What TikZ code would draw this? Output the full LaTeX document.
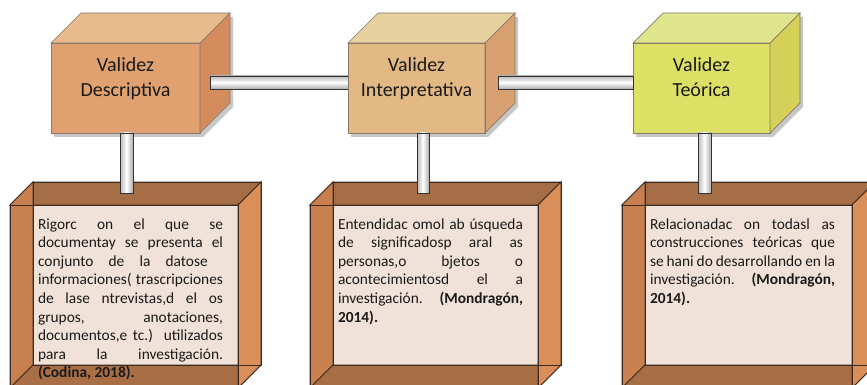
\documentclass[tikz,border=0pt]{standalone}
\usepackage{fontspec}
\setmainfont{Carlito}
\usetikzlibrary{calc}
\definecolor{vdfront}{HTML}{E0A070}
\definecolor{vdtop}{HTML}{E8BA8C}
\definecolor{vdside}{HTML}{D48C5F}
\definecolor{vifront}{HTML}{E2B884}
\definecolor{vitop}{HTML}{E6D0A0}
\definecolor{viside}{HTML}{D6A070}
\definecolor{vtfront}{HTML}{DCE064}
\definecolor{vttop}{HTML}{DEE68C}
\definecolor{vtside}{HTML}{D4D058}
\definecolor{edgec}{HTML}{8A7868}
\definecolor{btop}{HTML}{A66E46}
\definecolor{bleft}{HTML}{C88050}
\definecolor{bright}{HTML}{DA8E58}
\definecolor{bbottom}{HTML}{A86E46}
\definecolor{panel}{HTML}{F0E2D8}
\definecolor{bline}{HTML}{3C2A20}
\definecolor{txt}{HTML}{1A1A1A}
\tikzset{
  edge/.style={draw=edgec, line width=0.7pt},
  bedge/.style={draw=bline, line width=1pt},
  hbar/.style={draw=black!80, line width=0.9pt, top color=gray!55, bottom color=gray!65, middle color=white},
  vbar/.style={draw=black!80, line width=0.9pt, left color=gray!55, right color=gray!65, middle color=white},
  body/.style={inner sep=0pt, outer sep=0pt, anchor=base west, font=\fontsize{15.4pt}{18.6pt}\selectfont, text=txt},
  lbl/.style={inner sep=0pt, anchor=base, font=\fontsize{20pt}{25pt}\selectfont, text=txt},
  frontbox/.style={rectangle, inner sep=0pt, outer sep=0pt, minimum height=90pt},
  backbox/.style={rectangle, inner sep=0pt, outer sep=0pt, minimum height=183pt},
}
% #1 name, #2 center, #3 width, #4 colour prefix, #5 line 1, #6 line 2
\newcommand\mytopbox[6]{%
  \path node[frontbox, minimum width=#3] (#1) at (#2) {};
  \fill[black, opacity=.22] ($(#1.south west)+(3,4)$) -- ($(#1.north west)+(3,4)$)
     -- ($(#1.north west)+(33,-26)$) -- ($(#1.north east)+(33,-26)$)
     -- ($(#1.south east)+(33,-26)$) -- ($(#1.south east)+(3,4)$) -- cycle;
  \filldraw[edge, fill=#4front] (#1.north west) rectangle (#1.south east);
  \filldraw[edge, fill=#4top] (#1.north west) -- ++(30,-30) -- ($(#1.north east)+(30,-30)$) -- (#1.north east) -- cycle;
  \filldraw[edge, fill=#4side] (#1.north east) -- ++(30,-30) -- ($(#1.south east)+(30,-30)$) -- (#1.south east) -- cycle;
  \node[lbl] (#1a) at ($(#1.north)+(0,29)$) {#5};
  \node[lbl] (#1b) at ($(#1.north)+(0,54)$) {#6};
}
% #1 name, #2 center, #3 width
\newcommand\mybottombox[3]{%
  \path node[backbox, minimum width=#3] (#1) at (#2) {};
  \fill[panel] ($(#1.north west)+(23,0)$) rectangle ($(#1.south east)+(0,-23)$);
  \filldraw[bedge, fill=btop] (#1.north west) -- ++(23,-23) -- ($(#1.north east)+(23,-23)$) -- (#1.north east) -- cycle;
  \filldraw[bedge, fill=bleft] (#1.north west) -- ++(23,-23) -- ($(#1.south west)+(23,-23)$) -- (#1.south west) -- cycle;
  \filldraw[bedge, fill=bbottom] (#1.south west) -- ++(23,-23) -- ($(#1.south east)+(23,-23)$) -- (#1.south east) -- cycle;
  \filldraw[bedge, fill=bright] (#1.north east) -- ++(23,-23) -- ($(#1.south east)+(23,-23)$) -- (#1.south east) -- cycle;
  \draw[bedge] ($(#1.north west)+(23,-23)$) rectangle ($(#1.south east)+(23,-23)$);
  \draw[bedge] (#1.north west) rectangle (#1.south east);
}
\begin{document}
\begin{tikzpicture}[x=1pt, y=-1pt]
\useasboundingbox (0,0) rectangle (867,385);
\clip (0,0) rectangle (867,385);
\fill[white] (0,0) rectangle (867,385);

% bottom boxes
\mybottombox{pd}{124,296.5}{228pt}
\mybottombox{pi}{424,296.5}{228pt}
\mybottombox{pt}{737,296.5}{230pt}

% texts of bottom boxes
\node[body] (pd1) at ($(pd.north west)+(28,24)$)    {\makebox[185pt][s]{Rigorc on el que se}};
\node[body] (pd2) at ($(pd.north west)+(28,42.6)$)  {\makebox[185pt][s]{documentay se presenta el}};
\node[body] (pd3) at ($(pd.north west)+(28,61.2)$)  {\makebox[185pt][s]{conjunto de la datose }};
\node[body] (pd4) at ($(pd.north west)+(28,79.8)$)  {\makebox[185pt][s]{informaciones( trascripciones}};
\node[body] (pd5) at ($(pd.north west)+(28,98.4)$)  {\makebox[185pt][s]{de lase ntrevistas,d el os}};
\node[body] (pd6) at ($(pd.north west)+(28,117)$)   {\makebox[185pt][s]{grupos, anotaciones,}};
\node[body] (pd7) at ($(pd.north west)+(28,135.6)$) {\makebox[185pt][s]{documentos,e tc.) utilizados}};
\node[body] (pd8) at ($(pd.north west)+(28,154.2)$) {\makebox[185pt][s]{para la investigación.}};
\node[body] (pd9) at ($(pd.north west)+(28,172.8)$) {\textbf{(Codina, 2018).}};

\node[body] (pi1) at ($(pi.north west)+(28,24)$)    {\makebox[185pt][s]{Entendidac omol ab úsqueda}};
\node[body] (pi2) at ($(pi.north west)+(28,42.6)$)  {\makebox[185pt][s]{de significadosp aral as}};
\node[body] (pi3) at ($(pi.north west)+(28,61.2)$)  {\makebox[185pt][s]{personas,o bjetos o}};
\node[body] (pi4) at ($(pi.north west)+(28,79.8)$)  {\makebox[185pt][s]{acontecimientosd el a}};
\node[body] (pi5) at ($(pi.north west)+(28,98.4)$)  {\makebox[185pt][s]{investigación. \textbf{(Mondragón,}}};
\node[body] (pi6) at ($(pi.north west)+(28,117)$)   {\textbf{2014).}};

\node[body] (pt1) at ($(pt.north west)+(28,24)$)    {\makebox[185pt][s]{Relacionadac on todasl as}};
\node[body] (pt2) at ($(pt.north west)+(28,42.6)$)  {\makebox[185pt][s]{construcciones teóricas que}};
\node[body] (pt3) at ($(pt.north west)+(28,61.2)$)  {\makebox[185pt][s]{se hani do desarrollando en la}};
\node[body] (pt4) at ($(pt.north west)+(28,79.8)$)  {\makebox[185pt][s]{investigación. \textbf{(Mondragón,}}};
\node[body] (pt5) at ($(pt.north west)+(28,98.4)$)  {\textbf{2014).}};

% top boxes and horizontal connectors
\mytopbox{vd}{125.5,88}{149pt}{vd}{Validez}{Descriptiva}
\mytopbox{vi}{416.5,88}{137pt}{vi}{Validez}{Interpretativa}
\path[hbar] ($(vd.east)+(10,-12)$) rectangle ($(vi.west)+(0,1)$);
\mytopbox{vt}{701.5,88}{137pt}{vt}{Validez}{Teórica}
\path[hbar] ($(vi.east)+(13,-12)$) rectangle ($(vt.west)+(0,1)$);
\draw[edge] (vi.north west) rectangle (vi.south east);

% vertical connectors
\path[vbar] ($(vd.south)+(-5.5,0)$) rectangle ($(vd.south |- pd.north)+(7.5,-11.5)$);
\path[vbar] ($(vi.south)+(0.5,0)$) rectangle ($(vi.south |- pi.north)+(12.5,-11.5)$);
\path[vbar] ($(vt.south)+(-3.5,0)$) rectangle ($(vt.south |- pt.north)+(9.5,-11.5)$);
\end{tikzpicture}
\end{document}
